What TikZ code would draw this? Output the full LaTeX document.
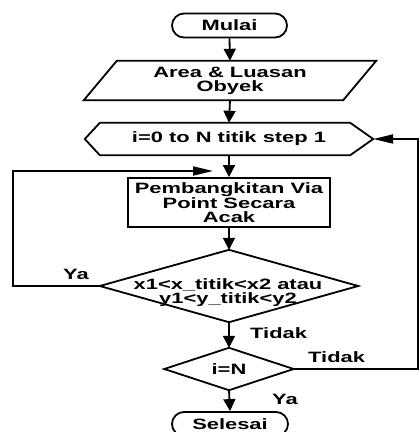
\documentclass[tikz,border=0pt]{standalone}
\usepackage{fontspec}
\setmainfont{Liberation Sans}[FakeStretch=1.46]
\usetikzlibrary{arrows.meta}
\begin{document}
\begin{tikzpicture}[x=1pt,y=-1pt,
  every node/.style={font=\bfseries\fontsize{15}{14}\selectfont, align=center, inner sep=0pt},
  term/.style={draw, line width=1.8pt, rounded corners=12pt, minimum height=24pt},
  procbox/.style={draw, line width=1.8pt},
  line/.style={line width=1.8pt},
  varr/.style={line width=1.8pt, -{Triangle[length=12pt,width=12pt]}},
  harr/.style={line width=1.8pt, -{Triangle[length=20pt,width=9pt]}},
  lbl/.style={anchor=base west}
]
\useasboundingbox (0,0) rectangle (420,432);

% nodes
\node[term, minimum width=115pt] (mulai) at (229.5,25.5) {Mulai};
\node[minimum width=259pt, minimum height=39pt] (area) at (230,80.5) {Area \& Luasan\\Obyek};
\node[minimum width=288pt, minimum height=32pt] (hex) at (229,139) {i=0 to N titik step 1};
\node[procbox, minimum width=202pt, minimum height=49pt] (proc) at (229,202.5) {Pembangkitan Via\\Point Secara\\Acak};
\node[minimum width=258pt, minimum height=72pt] (d1) at (229,286) {};
\node (d1t) at (228,293) {x1<x\_titik<x2 atau\\y1<y\_titik<y2};
\node[minimum width=129pt, minimum height=42pt] (d2) at (229,369) {i=N};
\node[term, minimum width=116pt] (sel) at (230,424) {Selesai};

% shapes drawn from anchors
\draw[line, line join=miter] ([xshift=16.5pt]area.north west) -- ([xshift=16.5pt]area.north east)
  -- ([xshift=-16.5pt]area.south east) -- ([xshift=-16.5pt]area.south west) -- cycle;
\draw[line] (hex.west) -- ([xshift=15pt]hex.north west) -- ([xshift=-23pt]hex.north east)
  -- (hex.east) -- ([xshift=-23pt]hex.south east) -- ([xshift=15pt]hex.south west) -- cycle;
\draw[line] (d1.north) -- (d1.east) -- (d1.south) -- (d1.west) -- cycle;
\draw[line] (d2.north) -- (d2.east) -- (d2.south) -- (d2.west) -- cycle;

% connectors
\draw[varr] (mulai.south) -- (area.north);
\draw[varr] (area.south) -- (hex.north);
\draw[varr] (hex.south) -- (proc.north);
\draw[varr] (proc.south) -- (d1.north);
\draw[varr] (d1.south) -- (d2.north);
\draw[varr] (d2.south) -- (sel.north);

\coordinate (loopend) at (213,171);
\coordinate (loopcorner) at (13,286);
\draw[harr] (d1.west) -- (loopcorner) |- (loopend);

\coordinate (retcorner) at (418,369);
\draw[harr] (d2.east) -- (retcorner) |- (hex.east);

% labels
\node[lbl] (ya1) at (63,279) {Ya};
\node[lbl] (tidak1) at (250,338) {Tidak};
\node[lbl] (tidak2) at (308,362) {Tidak};
\node[lbl] (ya2) at (272,404) {Ya};
\end{tikzpicture}
\end{document}
